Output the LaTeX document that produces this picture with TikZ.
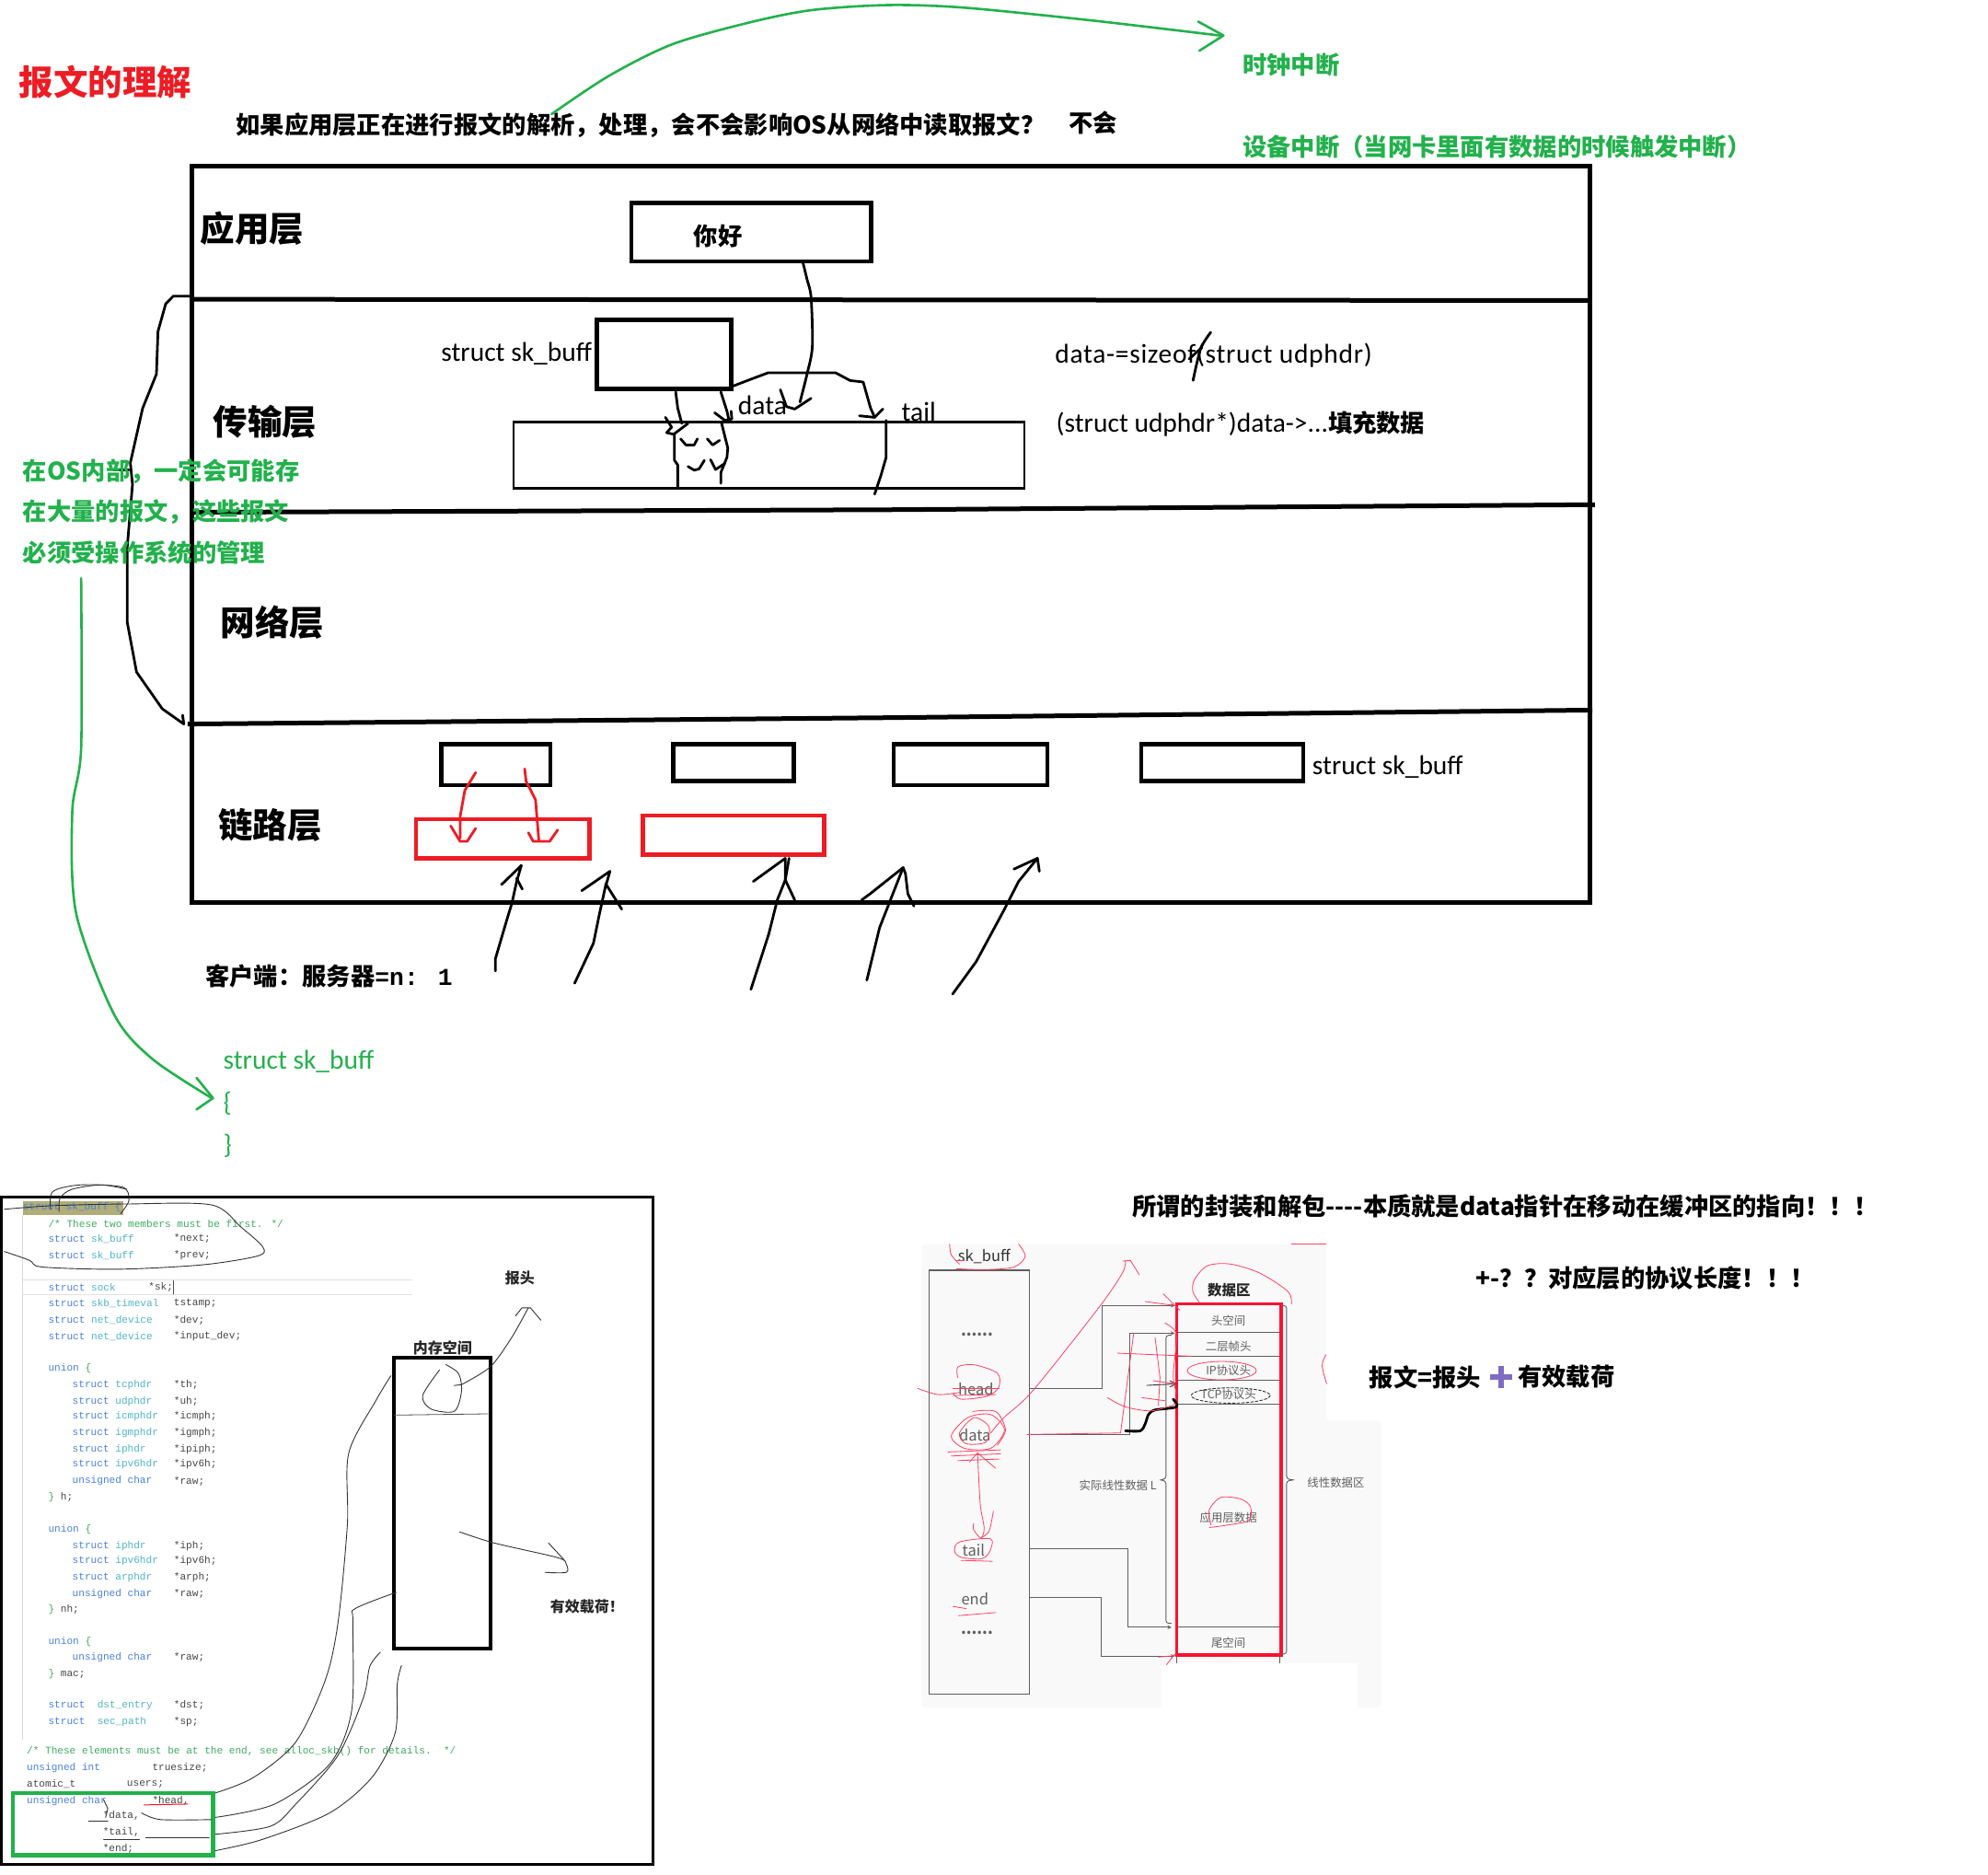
\documentclass[tikz,border=0pt]{standalone}
\usepackage{fontspec}
\setmainfont{Carlito}
\newfontfamily\cjk{Noto Sans CJK SC}
\newfontfamily\codefont{Liberation Mono}
\usetikzlibrary{positioning}

% full width punctuation
\newcommand{\wcomma}{^^^^ff0c}
\newcommand{\wquest}{^^^^ff1f}
\newcommand{\wcolon}{^^^^ff1a}
\newcommand{\wbang}{^^^^ff01}
\newcommand{\wopen}{^^^^ff08}
\newcommand{\wclose}{^^^^ff09}

\definecolor{paintred}{HTML}{ED1C24}
\definecolor{paintgreen}{HTML}{22B14C}
\definecolor{paintpurple}{HTML}{7E6BC4}
\definecolor{markred}{HTML}{FF4060}
\definecolor{shotred}{HTML}{FF1030}
\definecolor{shotgray}{HTML}{5F5F5F}
\definecolor{panelgray}{HTML}{F9F9FA}
\definecolor{kwblue}{HTML}{4A7FDC}
\definecolor{typeteal}{HTML}{4FB3C4}
\definecolor{commentgreen}{HTML}{3EA860}
\definecolor{codegray}{HTML}{454545}

\tikzset{
    framepen/.style={line width=5pt, line join=miter},
    boxpen/.style={line width=4.4pt, line join=miter},
    blackpen/.style={line width=2.8pt, line cap=round, line join=round},
    redpen/.style={line width=2.8pt, color=paintred, line cap=round, line join=round},
    greenpen/.style={line width=2.6pt, color=paintgreen, line cap=round, line join=round},
    hairpen/.style={line width=0.9pt, color=black!80, line cap=round, line join=round},
    markpen/.style={line width=0.8pt, color=markred, line cap=round, line join=round},
    titletxt/.style={anchor=west, inner sep=0pt, font=\cjk\bfseries\fontsize{37.5}{40}\selectfont},
    layertxt/.style={anchor=west, inner sep=0pt, font=\cjk\bfseries\fontsize{37.5}{40}\selectfont},
    boldtxt/.style={anchor=west, inner sep=0pt, font=\cjk\bfseries\fontsize{26.3}{30}\selectfont},
    greentxt/.style={boldtxt, text=paintgreen},
    handtxt/.style={anchor=west, inner sep=0pt, font=\fontsize{29.5}{32}\selectfont},
    shottxt/.style={inner sep=0pt, text=shotgray, font=\cjk\fontsize{12.4}{14}\selectfont},
    shotbold/.style={inner sep=0pt, text=black!85, font=\cjk\bfseries\fontsize{16}{18}\selectfont},
    fieldtxt/.style={inner sep=0pt, text=shotgray, font=\cjk\fontsize{16.5}{18}\selectfont},
    codetxt/.style={anchor=west, inner sep=0pt, text=codegray, font=\codefont\fontsize{11.1}{13}\selectfont},
    % zoomed sketches keep their own local grids
    shotleft/.style={shift={(0,929.2)}, xscale=1/3, yscale=1/2.857},
    shotright/.style={shift={(711.4,972.7)}, xscale=1/3.857, yscale=1/4.13},
    transportgrid/.style={shift={(333.9,188.7)}, xscale=1/3.09, yscale=1/4.13},
    linkgrid/.style={shift={(290.4,566.2)}, xscale=1/2.69, yscale=1/4.11},
}

\begin{document}
\begin{tikzpicture}[x=1.3776pt, y=-1.3776pt, >=stealth]
    \useasboundingbox (0,0) rectangle (1568,1478);

    % title and question
    \node[titletxt, text=paintred] (title) at (15,65) {报文的理解};
    \node[boldtxt] (question) at (186,99) {如果应用层正在进行报文的解析\wcomma{}处理\wcomma{}会不会影响OS从网络中读取报文\wquest};
    \node[boldtxt] (answer) at (843,97) {不会};
    \node[greentxt] (clockirq) at (980,51) {时钟中断};
    \node[greentxt] (deviceirq) at (980,116) {设备中断\wopen{}当网卡里面有数据的时候触发中断\wclose};
    \draw[greenpen] plot[smooth] coordinates {(435,90) (480,60) (530,35) (590,18) (640,8) (700,4) (760,6) (860,16) (962,28)};
    \draw[greenpen] (945,17) -- (965,28) -- (946,40);

    % layers
    \draw[framepen] (151,131) rectangle (1254,712);
    \draw[framepen] (151,236) -- (1254,237);
    \draw[framepen] (152,404) -- (700,402) -- (1258,398);
    \draw[framepen] (148,571) -- (700,566) -- (1256,560);
    \node[layertxt] (applayer) at (158,180) {应用层};
    \node[layertxt] (translayer) at (168,333) {传输层};
    \node[layertxt] (netlayer) at (174,491) {网络层};
    \node[layertxt] (linklayer) at (172,651) {链路层};

    % application and transport boxes
    \draw[boxpen] (498,160) rectangle (687,206);
    \node[boldtxt] (hello) at (547,186) {你好};
    \draw[framepen] (471,252) rectangle (577,307);
    \node[handtxt, anchor=east] (skblabel) at (467,279) {struct sk\_buff};
    \draw[line width=2.6pt] (405,333) rectangle (808,385);
    \node[handtxt] (datalabel) at (582,320) {data};
    \node[handtxt] (taillabel) at (711,325) {tail};
    \node[handtxt] (moveline) at (832,280) {\addfontfeature{LetterSpace=2.4}data-=sizeof(struct udphdr)};
    \node[handtxt] (fillline) at (833,334) {(struct udphdr*)data->...{\cjk\bfseries\fontsize{26.3}{30}\selectfont 填充数据}};
    \draw[blackpen] plot[smooth] coordinates {(955,262) (947,275) (941,300)};
    \draw[blackpen] (938,283) -- (948,274);

    \begin{scope}[transportgrid]
        \draw[blackpen] plot[smooth] coordinates {(925,75) (935,130) (945,190) (948,350) (935,440) (918,530)};
        \draw[blackpen] (870,490) -- (885,545) -- (905,553) -- (945,518);
        \draw[blackpen] (755,478) -- (800,455) -- (840,435) -- (1005,435) -- (1040,460) -- (1072,465) -- (1090,550) -- (1100,580);
        \draw[blackpen] (1063,575) -- (1100,580) -- (1120,553);
        \draw[blackpen] (615,497) -- (620,550) -- (630,600);
        \draw[blackpen] (590,580) -- (605,612) -- (593,630) -- (610,635) -- (645,600);
        \draw[blackpen] (725,497) -- (740,560) -- (745,590);
        \draw[blackpen] (710,565) -- (735,590) -- (752,585) -- (750,560);
        \draw[blackpen] (727,600) -- (742,680) -- (740,710) -- (725,760) -- (725,795);
        \draw[blackpen] (612,635) -- (612,720) -- (620,735) -- (620,810);
        \draw[blackpen] (1128,590) -- (1128,710) -- (1115,770) -- (1100,830);
        % marks between the two pointers
        \draw[blackpen] (627,650) -- (640,670) -- (660,670) -- (668,650);
        \draw[blackpen] (692,650) -- (705,670) -- (722,655);
        \draw[blackpen] (645,740) -- (660,752) -- (672,748) -- (685,720);
        \draw[blackpen] (700,718) -- (712,750) -- (735,730);
    \end{scope}

    % os note with its two curves
    \draw[blackpen] (151,233.5) -- (136.7,233.5) -- (130.7,239.6) -- (124.6,261.4) -- (123.4,295) -- (112.5,322) -- (102.8,365) -- (104.5,382) -- (100.4,431) -- (100.4,491) -- (107.7,530) -- (128,559) -- (145,571) -- (144,564);
    \draw[blackpen] (89.5,370.7) -- (101.6,370.7);
    \node[greentxt] (notea) at (18,372) {在OS内部\wcomma{}一定会可能存};
    \node[greentxt] (noteb) at (18,404) {在大量的报文\wcomma{}这些报文};
    \node[greentxt] (notec) at (18,436) {必须受操作系统的管理};
    \draw[greenpen] plot[smooth] coordinates {(64,456) (64,590) (57,640) (60,720) (90,800) (120,835) (167,866)};
    \draw[greenpen] (155,850) -- (168,866) -- (155,875);
    \node[handtxt, text=paintgreen] (structopen) at (176,837) {struct sk\_buff};
    \node[handtxt, text=paintgreen] (bropen) at (176,870) {\{};
    \node[handtxt, text=paintgreen] (brclose) at (176,904) {\}};

    % link layer queue
    \foreach \xa/\ya/\xb/\yb in {348/587/434/619, 531/587/626/616, 705/587/826/619, 900/587/1028/616}{
        \draw[boxpen] (\xa,\ya) rectangle (\xb,\yb);
    }
    \node[handtxt] (queuelabel) at (1035,605) {struct sk\_buff};
    \foreach \xa/\ya/\xb/\yb in {328/646/465/677, 507/643/650/674}{
        \draw[boxpen, color=paintred] (\xa,\ya) rectangle (\xb,\yb);
    }
    \begin{scope}[linkgrid]
        \draw[redpen] (228,177) -- (205,235) -- (195,320) -- (195,390);
        \draw[redpen] (175,350) -- (195,400) -- (210,400) -- (228,358);
        \draw[redpen] (332,165) -- (335,205) -- (355,265) -- (362,395);
        \draw[redpen] (340,372) -- (350,400) -- (385,400) -- (402,363);
        % incoming packets
        \draw[blackpen] (270,820) -- (270,780) -- (295,650) -- (305,600) -- (315,530) -- (325,478) -- (283,540);
        \draw[blackpen] (315,520) -- (327,555);
        \draw[blackpen] (438,860) -- (478,730) -- (490,640) -- (505,535);
        \draw[blackpen] (453,560) -- (513,497) -- (505,540) -- (538,620);
        \draw[blackpen] (812,880) -- (850,700) -- (868,590) -- (885,525) -- (885,455) -- (817,530);
        \draw[blackpen] (893,455) -- (885,525) -- (905,590);
        \draw[blackpen] (1058,850) -- (1085,680) -- (1135,485);
        \draw[blackpen] (1047,590) -- (1065,570) -- (1135,485) -- (1140,505) -- (1145,570) -- (1158,610);
        \draw[blackpen] (1240,895) -- (1290,790) -- (1350,620) -- (1380,530) -- (1420,455);
        \draw[blackpen] (1370,490) -- (1420,455) -- (1424,497);
    \end{scope}
    \node[boldtxt] (ratio) at (162,770) {客户端\wcolon{}服务器{\codefont\bfseries =n: 1}};

    % left screenshot
    \draw[line width=3pt] (1,944) rectangle (515,1470);
    \fill[color=olive!45!gray!70] (18,947) rectangle (97,958);
    \draw[black!12, line width=0.7pt] (18,1009) -- (325,1009);
    \draw[black!12, line width=0.7pt] (18,1021) -- (325,1021);
    \draw[black!15, line width=0.7pt] (18,958) -- (18,1372);

    \node[codetxt, text=kwblue] (skbhead) at (18,952) {struct sk\_buff \{};
    \node[codetxt, text=commentgreen] (commenta) at (38,965) {/* These two members must be first. */};
    \node[codetxt, text=commentgreen] (commentb) at (21,1381) {/* These elements must be at the end, see alloc\_skb() for details.~~*/};
    \foreach \y/\x/\ty/\vx/\var in {
        977/38/sk\_buff/137/*next;, 990/38/sk\_buff/137/*prev;,
        1015/38/sock/117/*sk;, 1028/38/skb\_timeval/137/tstamp;,
        1041/38/net\_device/137/*dev;, 1054/38/net\_device/137/*input\_dev;,
        1092/57/tcphdr/137/*th;, 1105/57/udphdr/137/*uh;,
        1117/57/icmphdr/137/*icmph;, 1130/57/igmphdr/137/*igmph;,
        1143/57/iphdr/137/*ipiph;, 1155/57/ipv6hdr/137/*ipv6h;,
        1219/57/iphdr/137/*iph;, 1231/57/ipv6hdr/137/*ipv6h;,
        1244/57/arphdr/137/*arph;,
        1345/38/{~dst\_entry}/137/*dst;, 1358/38/{~sec\_path}/137/*sp;}{
        \node[codetxt] (type\y) at (\x,\y) {\textcolor{kwblue}{struct} \textcolor{typeteal}{\ty}};
        \node[codetxt] (var\y) at (\vx,\y) {\var};
    }
    \foreach \y in {1168,1257,1307}{
        \node[codetxt, text=kwblue] (char\y) at (57,\y) {unsigned char};
        \node[codetxt] (raw\y) at (137,\y) {*raw;};
    }
    \foreach \y in {1079,1206,1295}{
        \node[codetxt, text=kwblue] (union\y) at (38,\y) {union \textcolor{commentgreen}{\{}};
    }
    \foreach \y/\lab in {1181/h, 1269/nh, 1320/mac}{
        \node[codetxt] (close\y) at (38,\y) {\textcolor{commentgreen}{\}} \lab;};
    }
    \node[codetxt, text=kwblue] (introw) at (21,1394) {unsigned int};
    \node[codetxt] (truesize) at (120,1394) {truesize;};
    \node[codetxt] (atomicrow) at (21,1407) {atomic\_t};
    \node[codetxt] (users) at (100,1407) {users;};
    \node[codetxt, text=kwblue] (charrow) at (21,1420) {unsigned char};
    \foreach \y/\x/\var in {1420/120/{*head,}, 1432/81/{*data,}, 1445/81/{*tail,}, 1458/81/{*end;}}{
        \node[codetxt] (ptr\y) at (\x,\y) {\var};
    }
    \draw[boxpen, color=paintgreen] (10,1414) rectangle (168,1463);

    % memory block
    \draw[line width=4pt] (311,1071) rectangle (387,1300);
    \draw[line width=0.8pt, color=black!70] (311,1116) -- (385,1115);
    \node[shotbold] (memlabel) at (349,1063) {内存空间};
    \node[shotbold] (hdrlabel) at (410,1008) {报头};
    \node[shotbold] (payloadlabel) at (463,1267) {有效载荷\wbang};

    \begin{scope}[shotleft]
        \draw[hairpen] plot[smooth] coordinates {(120,70) (125,30) (190,15) (290,20) (305,50) (285,80)};
        \draw[hairpen] plot[smooth] coordinates {(140,75) (142,45) (170,25) (240,15) (300,25)};
        \draw[hairpen] plot[smooth] coordinates {(10,70) (120,62) (300,58) (500,60) (570,110) (622,155) (610,175) (480,195) (280,205) (100,200) (70,185) (10,165)};
        \draw[hairpen] plot[smooth] coordinates {(1040,432) (1000,490) (1020,520) (1075,525) (1092,480) (1085,440) (1055,420)};
        \draw[hairpen] (1075,467) -- (1092,465);
        \draw[hairpen] plot[smooth] coordinates {(1092,465) (1160,425) (1210,360) (1250,292)};
        \draw[hairpen] (1220,310) -- (1235,292) -- (1255,292) -- (1280,320);
        \draw[hairpen] plot[smooth] coordinates {(1088,797) (1170,822) (1320,855) (1340,870) (1340,888) (1290,888)};
        \draw[hairpen] (1298,822) -- (1335,860);
        % pointers running up to the block
        \draw[hairpen] plot[smooth] coordinates {(925,445) (890,500) (825,620) (822,780) (800,1000) (770,1130) (700,1270) (600,1350) (510,1385)};
        \draw[hairpen] plot[smooth] coordinates {(938,933) (840,970) (835,1000) (832,1200) (780,1320) (650,1410) (510,1440)};
        \draw[hairpen] plot[smooth] coordinates {(900,1068) (875,1100) (860,1170) (800,1300) (700,1410) (640,1460) (510,1478)};
        \draw[hairpen] plot[smooth] coordinates {(950,1098) (940,1140) (935,1250) (880,1350) (780,1430) (620,1490) (510,1515)};
        \draw[hairpen] plot[smooth] coordinates {(335,1430) (380,1445) (500,1445)};
        \draw[hairpen] (345,1485) -- (495,1485);
        \draw[hairpen] (210,1448) -- (255,1448);
        \draw[hairpen] (245,1400) -- (255,1420) -- (250,1440);
        \draw[hairpen] (245,1490) -- (330,1490);
        \draw[line width=1pt, color=shotred] (340,1412) -- (445,1410);
        \draw[line width=1.3pt, color=black!70] (411,230) -- (411,262);
    \end{scope}

    % right screenshot
    \node[boldtxt] (wrapline) at (893,951) {所谓的封装和解包----本质就是data指针在移动在缓冲区的指向\wbang\wbang\wbang};
    \node[boldtxt] (lenline) at (1164,1008) {+-\wquest\wquest{}对应层的协议长度\wbang\wbang\wbang};
    \node[boldtxt] (packetl) at (1080,1086) {报文=报头};
    \node[boldtxt] (packetr) at (1197,1086) {有效载荷};
    \fill[color=paintpurple] (1175,1083.5) rectangle (1193,1088.5);
    \fill[color=paintpurple] (1181.5,1077) rectangle (1186.5,1095);

    \begin{scope}[shotright]
        \fill[color=panelgray, rounded corners=4pt] (60,35) -- (1290,35) -- (1290,610) -- (1458,610) -- (1458,1545) -- (60,1545) -- cycle;
        \fill[color=white] (790,1400) rectangle (1385,1550);

        % pointer fields
        \draw[line width=1.1pt, color=shotgray] (83,120) rectangle (388,1500);
        \node[fieldtxt, text=black!80] (skbtitle) at (250,75) {sk\_buff};
        \node[fieldtxt, font=\cjk\bfseries\fontsize{16.5}{18}\selectfont] (dotsa) at (228,330) {......};
        \node[fieldtxt] (headfield) at (225,508) {head};
        \node[fieldtxt] (datafield) at (222,656) {data};
        \node[fieldtxt] (tailfield) at (218,1033) {tail};
        \node[fieldtxt] (endfield) at (222,1190) {end};
        \node[fieldtxt, font=\cjk\bfseries\fontsize{16.5}{18}\selectfont] (dotsb) at (228,1302) {......};

        % data area
        \foreach \y in {322,400,478,556,1283}{
            \draw[line width=0.9pt, color=shotgray] (836,\y) -- (1153,\y);
        }
        \draw[line width=3.5pt, color=shotred] (836,230) rectangle (1153,1373);
        \draw[line width=0.9pt, color=shotgray] (836,1373) -- (836,1400);
        \draw[line width=0.9pt, color=shotgray] (1150,1373) -- (1150,1400);
        \node[shotbold, font=\cjk\bfseries\fontsize{15.5}{18}\selectfont] (arealabel) at (995,185) {数据区};
        \node[shottxt] (headroom) at (993,283) {头空间};
        \node[shottxt] (machdr) at (993,368) {二层帧头};
        \node[shottxt] (iphdr) at (993,445) {IP协议头};
        \node[shottxt] (tcphdr) at (993,525) {TCP协议头};
        \node[shottxt] (appdata) at (993,927) {应用层数据};
        \node[shottxt] (tailroom) at (993,1333) {尾空间};
        \node[shottxt] (reallen) at (657,822) {实际线性数据 L};
        \node[shottxt] (lineararea) at (1320,812) {线性数据区};

        % braces
        \draw[line width=0.9pt, color=shotgray, rounded corners=3pt] (820,332) -- (803,332) -- (803,800) -- (782,803) -- (803,806) -- (803,1270) -- (820,1270);
        \draw[line width=0.9pt, color=shotgray, rounded corners=3pt] (1155,235) -- (1170,235) -- (1170,800) -- (1195,803) -- (1170,806) -- (1170,1370) -- (1155,1370);

        % connectors
        \coordinate (headend) at (830,235);
        \coordinate (dataend) at (830,325);
        \coordinate (tailend) at (820,1283);
        \coordinate (endend) at (830,1377);
        \draw[->, line width=1pt, color=shotgray] (388,505) -- (610,505) |- (headend);
        \draw[->, line width=1pt, color=shotgray] (388,655) -- (692,655) |- (dataend);
        \draw[->, line width=1pt, color=shotgray] (388,1027) -- (687,1027) |- (tailend);
        \draw[->, line width=1pt, color=shotgray] (388,1187) -- (607,1187) |- (endend);

        % pen marks
        \draw[line width=2.8pt, line cap=round, line join=round] plot[smooth] coordinates {(680,643) (725,643) (740,620) (750,590) (770,575) (835,565) (825,540)};
        \draw[hairpen] (745,495) -- (835,490);
        \draw[hairpen] (815,480) -- (835,490) -- (815,500);
        \draw[hairpen, densely dashed] (1000,528) ellipse (120 and 25);

        \draw[markpen] plot[smooth] coordinates {(145,35) (150,70) (175,100)};
        \draw[markpen] plot[smooth] coordinates {(355,35) (375,75) (340,110) (250,118) (165,115)};
        \draw[markpen] (165,88) -- (190,88);
        \draw[markpen] plot[smooth] coordinates {(48,505) (110,525) (175,518)};
        \draw[markpen] plot[smooth] coordinates {(170,470) (170,435) (220,428) (290,455) (295,500) (260,530) (180,540) (155,520)};
        \draw[markpen] (155,505) -- (295,505);
        \draw[markpen] (155,528) -- (285,525);
        % data pointer circled again and again
        \draw[markpen] plot[smooth cycle] coordinates {(150,660) (200,600) (270,590) (312,640) (270,700) (190,700)};
        \draw[markpen] plot[smooth cycle] coordinates {(175,650) (220,600) (265,630) (255,680) (195,685)};
        \draw[markpen] plot[smooth] coordinates {(215,580) (285,580) (315,640) (290,690)};
        \draw[markpen] plot[smooth] coordinates {(270,650) (310,600) (400,510) (600,240) (670,130) (680,90)};
        \draw[markpen] (672,90) -- (695,88) -- (722,135);
        \draw[markpen] (140,712) -- (300,705);
        \draw[markpen] (150,725) -- (300,718);
        \draw[markpen] (170,740) -- (295,735);
        \draw[markpen] (205,745) -- (230,715) -- (285,765);
        \draw[markpen] plot[smooth] coordinates {(230,715) (238,880) (250,960) (240,992) (218,965) (218,945)};
        \draw[markpen] plot[smooth] coordinates {(278,905) (265,970) (240,992)};
        \draw[markpen] plot[smooth cycle] coordinates {(160,1035) (175,1005) (270,995) (265,1040) (240,1060) (180,1055)};
        \draw[markpen] (180,1065) -- (275,1068);
        \draw[markpen] (155,1215) -- (195,1222);
        \draw[markpen] (172,1245) -- (285,1235);
        \draw[markpen] plot[smooth] coordinates {(905,225) (885,190) (890,150) (930,105) (1000,100) (1090,130) (1175,190) (1185,230)};
        \draw[markpen] (973,447) ellipse (105 and 30);
        \draw[markpen] plot[smooth] coordinates {(940,950) (935,900) (970,860) (1030,865) (1060,890) (1055,935) (990,950) (935,958)};
        \draw[markpen] (705,325) -- (665,650) -- (380,655);
        \draw[markpen] (655,390) -- (880,400);
        \draw[markpen] plot[smooth] coordinates {(625,535) (680,565) (760,578) (835,555)};
        \draw[markpen] (730,535) -- (800,545);
        \draw[markpen] (770,340) -- (785,470) -- (780,560);
        \draw[markpen] (765,480) -- (835,490);
        \draw[markpen] (795,197) -- (845,250);
        \draw[markpen] (740,222) -- (830,235);
        \draw[markpen] plot[smooth] coordinates {(800,292) (835,330) (825,460) (835,520)};
        \draw[markpen] (780,1380) -- (830,1375);
        \draw[markpen] (805,1405) -- (830,1370);
        \draw[markpen] (1185,35) -- (1290,35);
        \draw[markpen] plot[smooth] coordinates {(1290,395) (1278,430) (1292,490)};
    \end{scope}
\end{tikzpicture}
\end{document}
